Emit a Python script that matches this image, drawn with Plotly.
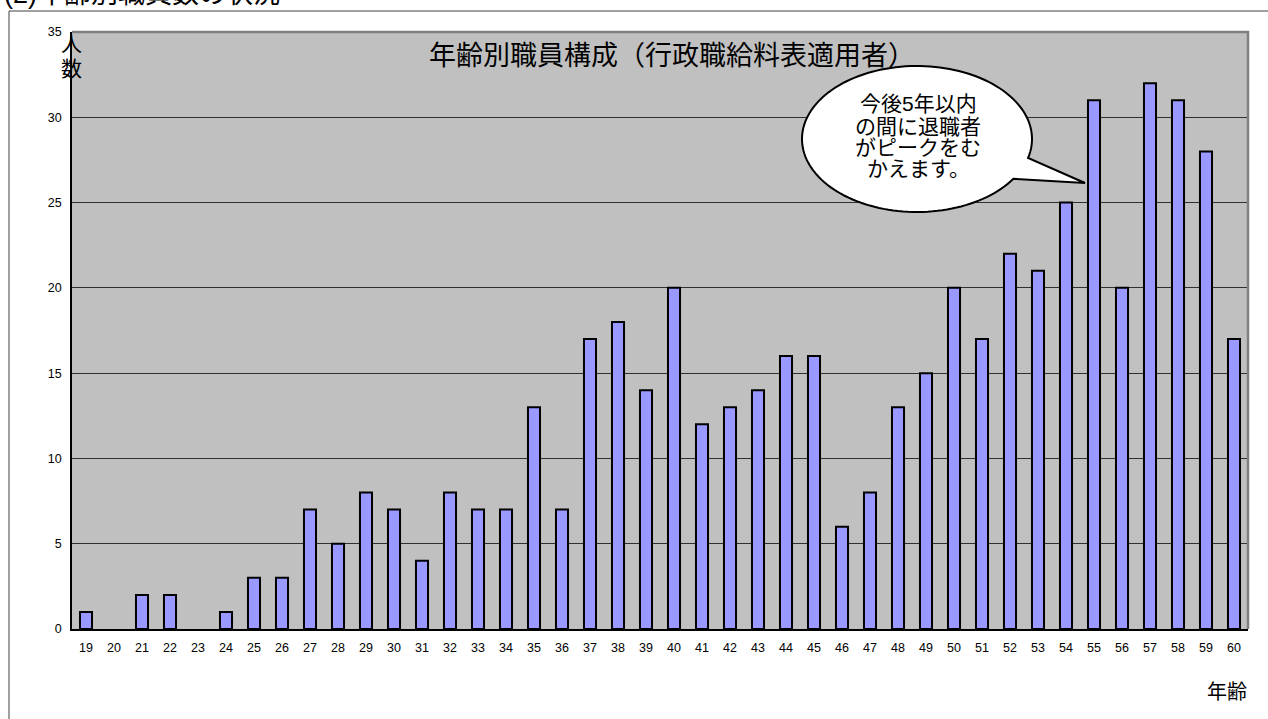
import numpy as np
import plotly.graph_objects as go

ages = list(range(19, 61))
counts = [1, 0, 2, 2, 0, 1, 3, 3, 7, 5, 8, 7, 4, 8, 7, 7, 13, 7, 17, 18, 14, 20,
          12, 13, 14, 16, 16, 6, 8, 13, 15, 20, 17, 22, 21, 25, 31, 20, 32, 31, 28, 17]
y_ticks = [0, 5, 10, 15, 20, 25, 30, 35]

title_text = "年齢別職員構成（行政職給料表適用者）"
bubble_lines = ["今後5年以内", "の間に退職者", "がピークをむ", "かえます。"]
page_title = "(2)年齢別職員数の状況"

W, H = 1268, 719
L, R, T, B = 72, 20, 32, 90
PW, PH = W - L - R, H - T - B

def px(x):
    return (x - L) / PW

def py(y):
    return (H - B - y) / PH

FONT = "Liberation Sans, Noto Sans CJK JP, sans-serif"

fig = go.Figure()
fig.add_trace(go.Bar(
    x=ages, y=[c if c > 0 else None for c in counts], width=0.43,
    marker=dict(color="#9999FF", line=dict(color="#000000", width=2)),
    showlegend=False,
))

# speech bubble path (ellipse with tail)
cx, cy, rx, ry = 917, 139, 115, 73
angles = np.linspace(np.deg2rad(33), np.deg2rad(360 + 15), 140)
pts = [(cx + rx * np.cos(a), cy + ry * np.sin(a)) for a in angles]
tip = (1085, 183)
path_pts = pts + [tip]
d = "M " + " L ".join(f"{px(x):.5f},{py(y):.5f}" for x, y in path_pts) + " Z"
fig.add_shape(type="path", path=d, xref="paper", yref="paper",
              fillcolor="white", line=dict(color="black", width=2), layer="above")

# outer frame
fig.add_shape(type="rect", xref="paper", yref="paper",
              x0=px(9), y0=py(1000), x1=px(1400), y1=py(11),
              line=dict(color="#404040", width=1), fillcolor="rgba(0,0,0,0)", layer="below")
# plot border top/right gray
fig.add_shape(type="path", xref="paper", yref="paper",
              path=f"M {px(L)},{py(T)} L {px(W-R)},{py(T)} L {px(W-R)},{py(H-B)}",
              line=dict(color="#808080", width=2.5), layer="above")

ann = []
ann.append(dict(text=title_text, x=px(672), y=py(56), xref="paper", yref="paper",
                showarrow=False, font=dict(size=27, color="black", family=FONT),
                xanchor="center", yanchor="middle"))
for ln, yy in zip(bubble_lines, [104, 126, 147, 168]):
    ann.append(dict(text=ln, x=px(918), y=py(yy), xref="paper", yref="paper",
                    showarrow=False, font=dict(size=21, color="black", family=FONT),
                    xanchor="center", yanchor="middle"))
ann.append(dict(text="人", x=px(71), y=py(43), xref="paper", yref="paper",
                showarrow=False, font=dict(size=21, color="black", family=FONT),
                xanchor="center", yanchor="middle"))
ann.append(dict(text="数", x=px(71), y=py(68), xref="paper", yref="paper",
                showarrow=False, font=dict(size=21, color="black", family=FONT),
                xanchor="center", yanchor="middle"))
ann.append(dict(text="年齢", x=px(1227), y=py(692), xref="paper", yref="paper",
                showarrow=False, font=dict(size=20, color="black", family=FONT),
                xanchor="center", yanchor="middle"))
ann.append(dict(text=page_title, x=px(2), y=py(-6), xref="paper", yref="paper",
                showarrow=False, font=dict(size=27, color="black", family=FONT),
                xanchor="left", yanchor="middle"))

boundaries = [a - 0.5 for a in ages] + [ages[-1] + 0.5]

fig.update_layout(
    width=W, height=H,
    margin=dict(l=L, r=R, t=T, b=B, pad=0),
    paper_bgcolor="white", plot_bgcolor="#C0C0C0",
    font=dict(family=FONT, size=12, color="black"),
    annotations=ann,
    xaxis=dict(
        range=[18.5, 60.5], tickmode="array", tickvals=ages, ticktext=[str(a) for a in ages],
        ticks="", showgrid=False, showline=True, linecolor="black", linewidth=1.5,
        tickfont=dict(size=12.5), zeroline=False, ticklabelstandoff=6,
    ),
    xaxis2=dict(
        range=[18.5, 60.5], overlaying="x", anchor="y", side="bottom",
        tickmode="array", tickvals=boundaries, ticks="inside", ticklen=5,
        tickcolor="#404040", tickwidth=1, showticklabels=False,
        showgrid=False, showline=False, zeroline=False,
    ),
    yaxis=dict(
        range=[0, 35], tickmode="array", tickvals=y_ticks, ticks="",
        showgrid=True, gridcolor="#303030", gridwidth=1,
        showline=True, linecolor="black", linewidth=1.5, zeroline=False,
        tickfont=dict(size=12.5), ticklabelstandoff=6,
    ),
)

fig.write_html("out.html")
